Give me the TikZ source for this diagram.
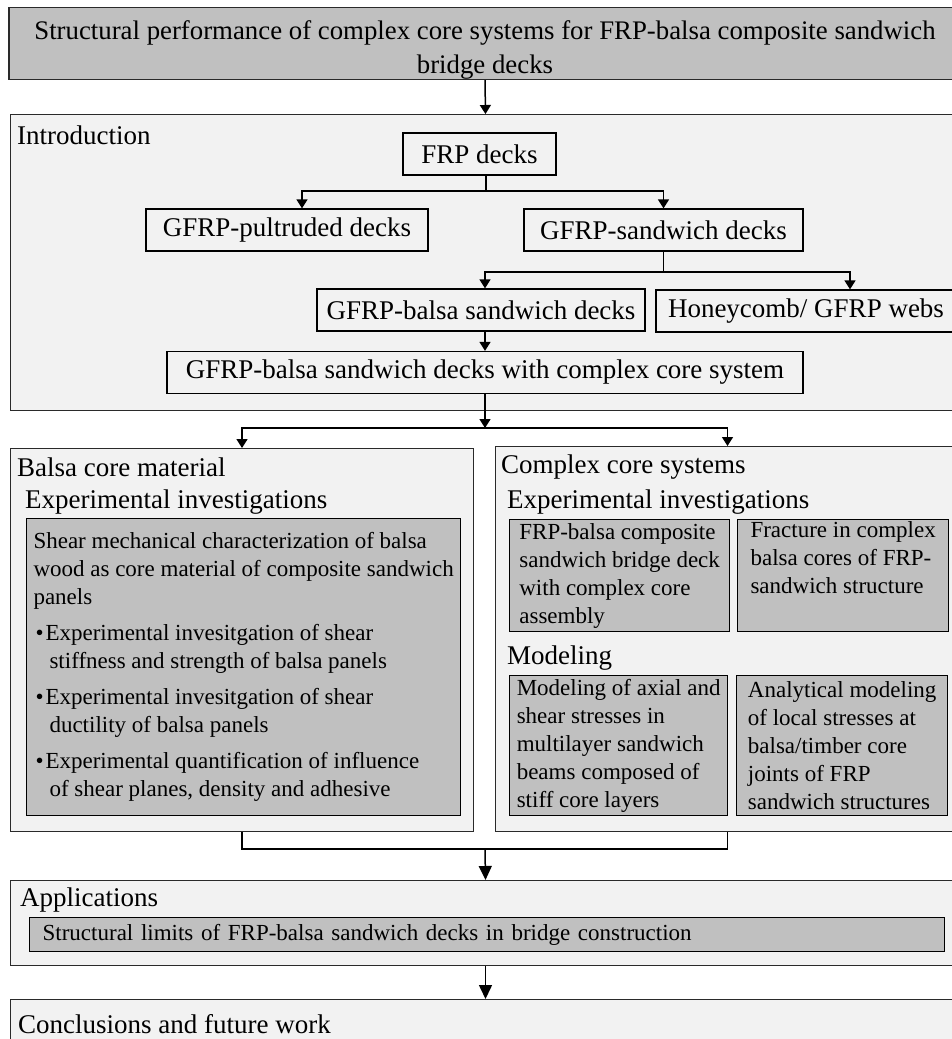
\documentclass[tikz,border=0pt]{standalone}
\usepackage{fontspec}
\setmainfont{Liberation Serif}
\usetikzlibrary{positioning,arrows.meta}

\definecolor{sectionfill}{HTML}{F2F2F2}
\definecolor{detailfill}{HTML}{C0C0C0}
\definecolor{frame}{HTML}{2A2A2A}

\newcommand{\titlefont}{\fontsize{26.8}{31}\selectfont}
\newcommand{\hdfont}{\fontsize{27}{31}\selectfont}
\newcommand{\dtfont}{\fontsize{23}{28}\selectfont}

\begin{document}
\begin{tikzpicture}[x=1pt,y=-1pt]
        % Define styles for boxes and connectors
        \tikzstyle{section} = [rectangle, draw=frame, line width=1pt, fill=sectionfill, anchor=north west, inner sep=0pt]
        \tikzstyle{deck} = [rectangle, draw=black, line width=1.3pt, font=\hdfont, minimum height=42pt, inner sep=0pt]
        \tikzstyle{detail} = [rectangle, draw=black, line width=1.3pt, fill=detailfill, font=\dtfont, align=left, inner sep=0pt, anchor=north west]
        \tikzstyle{heading} = [anchor=west, font=\hdfont, inner sep=0pt]
        \tikzstyle{connector} = [line width=1.6pt]
        \tikzstyle{arrow} = [line width=1.5pt,->,>={Triangle[length=9pt,width=11pt]}]
        \tikzstyle{bigarrow} = [line width=1.5pt,->,>={Triangle[length=14pt,width=13pt]}]

        \useasboundingbox (0,0) rectangle (952,1039);
        \clip (0,0) rectangle (952,1039);
        \fill[white] (0,0) rectangle (952,1039);

        % Title
        \node[rectangle, draw=frame, line width=1.3pt, fill=detailfill, font=\titlefont, align=center, minimum width=952pt, minimum height=69pt, inner sep=0pt] (title) at (485,43.5) {\rule{0pt}{32pt}Structural performance of complex core systems for FRP-balsa composite sandwich\\[3pt]bridge decks};

        % Introduction
        \node[section, minimum width=950pt, minimum height=296pt] (intro) at (10,114) {};
        \node[heading] (introlabel) at (17,135) {Introduction};
        \node[deck, minimum width=153pt] (frpdeck) at (479.5,154) {FRP decks};
        \node[deck, minimum width=282pt] (pultruded) at (287,230) {GFRP-pultruded decks};
        \node[deck, minimum width=279pt] (sandwich) at (663.5,230) {GFRP-sandwich decks};
        \node[deck, minimum width=328pt] (balsadeck) at (481,310) {GFRP-balsa sandwich decks};
        \node[deck, minimum width=300pt] (honeycomb) at (806,311) {Honeycomb/ GFRP webs};
        \node[deck, minimum width=636pt] (coresystem) at (485,372.5) {GFRP-balsa sandwich decks with complex core system};

        % Balsa core material
        \node[section, minimum width=463pt, minimum height=383pt] (balsa) at (10,448) {};
        \node[heading] (balsalabel) at (17,467) {Balsa core material};
        \node[heading] (balsaexp) at (25,502) {Experimental investigations};
        \node[detail, minimum width=434pt, minimum height=297pt] (shear) at (26,518) {Shear mechanical characterization of balsa\\wood as core material of composite sandwich\\panels\\[8pt]
        \hspace*{2pt}\textbullet\hspace{2pt}Experimental invesitgation of shear\\\hspace*{16pt}stiffness and strength of balsa panels\\[8pt]
        \hspace*{2pt}\textbullet\hspace{2pt}Experimental invesitgation of shear\\\hspace*{16pt}ductility of balsa panels\\[8pt]
        \hspace*{2pt}\textbullet\hspace{2pt}Experimental quantification of influence\\\hspace*{16pt}of shear planes, density and adhesive};

        % Complex core systems
        \node[section, minimum width=464pt, minimum height=385pt] (complex) at (495,446) {};
        \node[heading] (complexlabel) at (501,467) {Complex core systems};
        \node[heading] (complexexp) at (507,502) {Experimental investigations};
        \node[detail, minimum width=220pt, minimum height=112pt] (deckassembly) at (509,519) {FRP-balsa composite\\sandwich bridge deck\\with complex core\\assembly};
        \node[detail, minimum width=211pt, minimum height=112pt] (fracture) at (737,519) {Fracture in complex\\balsa cores of FRP-\\sandwich structure\\\strut};
        \node[heading] (modellabel) at (507,658) {Modeling};
        \node[detail, minimum width=218pt, minimum height=140pt] (stressmodel) at (509,675) {Modeling of axial and\\shear stresses in\\multilayer sandwich\\beams composed of\\stiff core layers};
        \node[detail, minimum width=211pt, minimum height=140pt] (jointmodel) at (736,675) {Analytical modeling\\of local stresses at\\balsa/timber core\\joints of FRP\\sandwich structures};

        % Applications and conclusions
        \node[section, minimum width=950pt, minimum height=85pt] (apps) at (10,880) {};
        \node[heading] (appslabel) at (20,900) {Applications};
        \node[detail, inner xsep=13pt, text width=889pt, minimum height=34pt] (limits) at (29,917) {Structural limits of FRP-balsa sandwich decks in bridge construction};
        \node[section, minimum width=950pt, minimum height=80pt] (concl) at (10,999) {};
        \node[heading] (concllabel) at (18,1024) {Conclusions and future work};

        % Split points
        \coordinate (introsplit) at (486,191);
        \coordinate (sandsplit) at (663.5,272);
        \coordinate (mainsplit) at (485,428);
        \coordinate (merge) at (485,849);

        % Arrows
        \draw[arrow] (title.south) -- (intro.north);
        \draw[connector] (introsplit |- frpdeck.south) -- (introsplit);
        \draw[arrow] (introsplit) -| ([xshift=15pt]pultruded.north);
        \draw[arrow] (introsplit) -| (sandwich.north);
        \draw[connector] (sandwich.south) -- (sandsplit);
        \draw[arrow] (sandsplit) -| ([xshift=4pt]balsadeck.north);
        \draw[arrow] (sandsplit) -| ([xshift=44pt]honeycomb.north);
        \draw[arrow] ([xshift=4pt]balsadeck.south) -- (coresystem.north);
        \draw[arrow] (coresystem.south) -- (mainsplit);
        \draw[arrow] (mainsplit) -| (balsa.north);
        \draw[arrow] (mainsplit) -| (complex.north);
        \draw[connector] (balsa.south) |- (merge) -| (complex.south);
        \draw[bigarrow] (merge) -- (apps.north);
        \draw[bigarrow] (apps.south) -- (concl.north);
\end{tikzpicture}
\end{document}
